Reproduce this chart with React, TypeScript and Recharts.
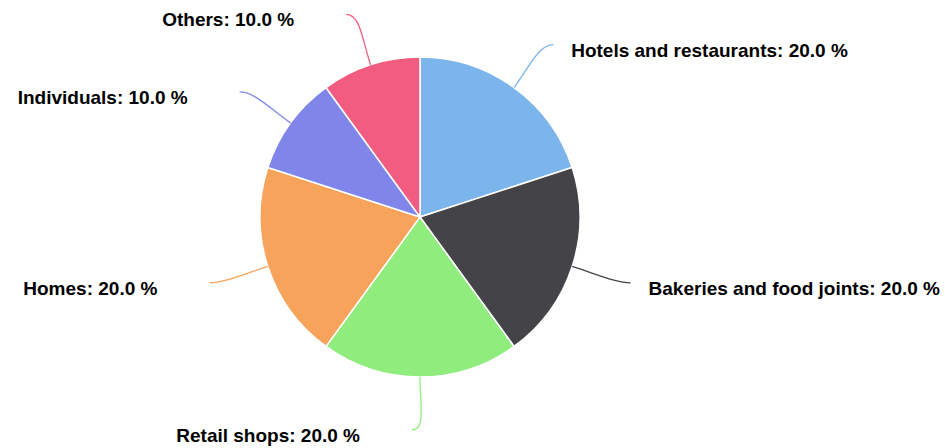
import React from "react";
import { PieChart, Pie, Cell } from "recharts";

const categories = [
  "Hotels and restaurants",
  "Bakeries and food joints",
  "Retail shops",
  "Homes",
  "Individuals",
  "Others",
];
const shares = [20, 20, 20, 20, 10, 10];
const colors = ["#7cb5ec", "#434348", "#90ed7d", "#f7a35c", "#8085e9", "#f15c80"];

const data = categories.map((name, i) => ({ name, value: shares[i] }));
const total = shares.reduce((a, b) => a + b, 0);

const RAD = Math.PI / 180;

const renderLabel = (props: any) => {
  const { cx, cy, midAngle, outerRadius, index, payload } = props;
  const ux = Math.cos(-midAngle * RAD);
  const uy = Math.sin(-midAngle * RAD);
  const sx = cx + outerRadius * ux;
  const sy = cy + outerRadius * uy;
  const dist = outerRadius + 53;
  const right = ux > 0.01;
  const ex = cx + dist * ux + (right ? 8 : -8);
  const ey = cy + dist * uy;
  const c1x = sx + 28 * ux;
  const c1y = sy + 28 * uy;
  const c2x = ex + (right ? -14 : 14);
  const c2y = ey;
  const tx = right ? ex + 18 : ex - 52;
  const pct = ((payload.value / total) * 100).toFixed(1);
  return (
    <g key={`lbl-${index}`}>
      <path
        d={`M${sx},${sy} C${c1x},${c1y} ${c2x},${c2y} ${ex},${ey}`}
        stroke={colors[index]}
        strokeWidth={1.3}
        fill="none"
      />
      <text
        x={tx}
        y={ey + 12}
        textAnchor={right ? "start" : "end"}
        fill="#000000"
        style={{
          fontFamily: "'Liberation Sans', Arial, Helvetica, sans-serif",
          fontSize: 19,
          fontWeight: 700,
        }}
      >
        {`${payload.name}: ${pct} %`}
      </text>
    </g>
  );
};

export default function App() {
  return (
    <div style={{ position: "absolute", left: 0, top: 0, width: 945, height: 448, background: "#ffffff" }}>
      <PieChart width={945} height={448} margin={{ top: 0, right: 0, bottom: 0, left: 0 }}>
        <Pie
          data={data}
          dataKey="value"
          nameKey="name"
          cx={420}
          cy={217}
          outerRadius={160}
          startAngle={90}
          endAngle={-270}
          stroke="#ffffff"
          strokeWidth={1.5}
          labelLine={false}
          label={renderLabel}
          isAnimationActive={false}
        >
          {data.map((d, i) => (
            <Cell key={d.name} fill={colors[i]} />
          ))}
        </Pie>
      </PieChart>
    </div>
  );
}
